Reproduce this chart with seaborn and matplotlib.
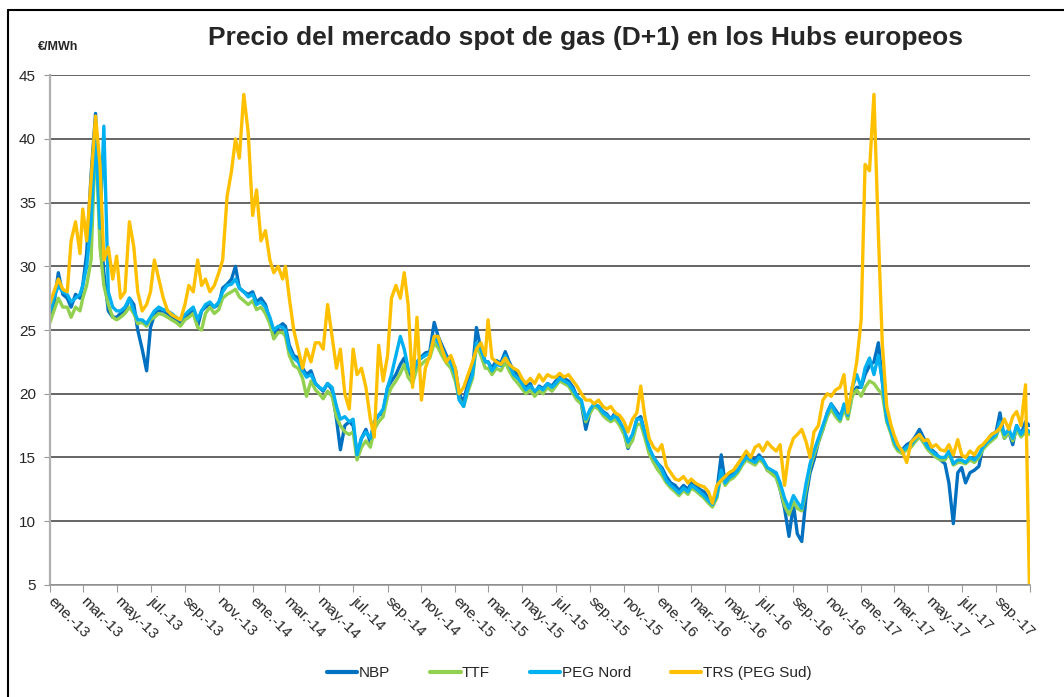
import pandas as pd
import matplotlib
matplotlib.use('Agg')
import matplotlib.pyplot as plt
from matplotlib.lines import Line2D
import seaborn as sns

# lecturas aproximadas: 4 por mes (dias 1, 8, 16, 24), ene-2013 .. oct-2017, + 31-oct-2017
dias = [1, 8, 16, 24]
meses = pd.date_range('2013-01-01', '2017-10-01', freq='MS')
fechas = [m + pd.Timedelta(days=d - 1) for m in meses for d in dias] + [pd.Timestamp('2017-10-31')]

nbp = [
    25.8, 27.0, 29.5, 27.8,  27.5, 26.8, 27.8, 27.5,  28.5, 31.0, 37.2, 42.0,
    34.0, 29.5, 26.5, 26.0,  26.0, 26.3, 26.5, 27.5,  27.0, 25.0, 23.5, 21.8,
    25.2, 26.2, 26.5, 26.5,  26.3, 26.0, 25.8, 25.5,  26.0, 26.2, 26.5, 25.3,
    26.5, 26.8, 27.0, 26.8,  27.0, 28.3, 28.6, 29.0,  30.0, 28.3, 28.0, 27.8,
    28.0, 27.2, 27.5, 27.0,  25.8, 24.5, 25.2, 25.5,  25.3, 23.8, 23.0, 22.8,
    22.0, 21.5, 21.8, 20.8,  20.5, 20.2, 20.8, 20.3,  18.0, 15.6, 17.5, 17.8,
    17.5, 15.2, 16.5, 17.2,  16.2, 17.8, 18.3, 18.5,  20.5, 21.0, 21.5, 22.3,
    22.8, 21.8, 21.3, 22.5,  22.9, 23.2, 23.3, 25.6,  24.5, 23.8, 23.0, 22.6,
    22.0, 20.0, 19.3, 21.0,  21.8, 25.2, 23.5, 22.5,  22.5, 22.0, 22.6, 22.4,
    23.3, 22.5, 21.8, 21.5,  21.0, 20.5, 20.8, 20.0,  20.6, 20.4, 20.8, 20.6,
    21.0, 21.3, 21.2, 21.0,  20.5, 19.8, 19.2, 17.2,  18.6, 19.2, 19.0, 18.6,
    18.4, 18.0, 18.5, 17.8,  17.0, 15.7, 16.5, 18.0,  18.2, 17.0, 15.6, 15.0,
    14.5, 14.2, 13.5, 13.0,  12.8, 12.4, 12.8, 12.5,  13.0, 12.8, 12.5, 12.3,
    11.8, 11.4, 12.3, 15.2,  13.0, 13.5, 13.8, 14.0,  14.5, 15.2, 15.0, 14.8,
    15.2, 14.8, 14.0, 13.8,  13.5, 12.5, 11.0, 8.8,   11.3, 9.0, 8.4, 12.0,
    13.8, 14.8, 16.2, 17.2,  18.5, 19.2, 18.7, 18.2,  19.0, 18.3, 20.0, 20.5,
    20.5, 21.5, 22.2, 22.5,  24.0, 21.0, 18.2, 17.2,  16.5, 15.8, 15.6, 16.0,
    16.2, 16.6, 17.2, 16.5,  16.0, 15.6, 15.3, 14.8,  14.5, 13.0, 9.8, 13.8,
    14.2, 13.0, 13.8, 14.0,  14.3, 15.8, 16.3, 16.8,  17.0, 18.5, 16.5, 17.0,
    16.0, 17.5, 16.8, 17.8,  17.5,
]

ttf = [
    25.6, 26.5, 27.5, 26.8,  26.8, 26.0, 26.8, 26.5,  27.5, 28.5, 30.5, 40.5,
    31.5, 28.5, 27.0, 26.0,  25.8, 26.0, 26.3, 26.8,  26.3, 25.5, 25.6, 25.3,
    25.8, 26.0, 26.3, 26.2,  26.0, 25.8, 25.6, 25.3,  25.8, 26.0, 26.3, 25.2,
    25.0, 26.3, 26.8, 26.3,  26.6, 27.5, 27.8, 28.0,  28.2, 27.6, 27.3, 27.0,
    27.3, 26.6, 26.8, 26.3,  25.5, 24.3, 24.8, 24.8,  24.5, 23.0, 22.2, 22.0,
    21.2, 19.8, 21.0, 20.3,  20.0, 19.6, 20.2, 19.8,  18.2, 17.5, 17.0, 16.8,
    17.0, 14.8, 15.8, 16.3,  15.8, 17.2, 17.8, 18.2,  19.8, 20.5, 21.0, 21.6,
    22.3, 21.3, 20.8, 22.0,  22.3, 22.6, 22.8, 24.0,  23.6, 23.0, 22.4, 22.0,
    21.0, 19.6, 19.0, 20.2,  21.2, 23.8, 23.0, 22.0,  22.0, 21.5, 22.0, 21.8,
    22.5, 21.8, 21.2, 20.8,  20.4, 20.0, 20.3, 19.8,  20.2, 20.0, 20.5, 20.2,
    20.6, 21.0, 20.8, 20.6,  20.0, 19.5, 19.2, 17.8,  18.5, 19.0, 18.8, 18.3,
    18.0, 17.8, 18.0, 17.5,  16.8, 15.8, 16.3, 17.6,  17.6, 16.6, 15.3, 14.6,
    14.0, 13.6, 13.0, 12.6,  12.3, 12.0, 12.4, 12.1,  12.6, 12.4, 12.1, 11.8,
    11.4, 11.1, 11.8, 13.6,  12.8, 13.2, 13.4, 13.8,  14.4, 14.8, 14.6, 14.4,
    14.8, 14.6, 14.0, 13.7,  13.4, 12.5, 11.2, 10.5,  11.5, 11.0, 10.8, 12.5,
    14.2, 15.2, 16.2, 17.2,  18.2, 18.8, 18.2, 17.8,  18.8, 18.0, 19.8, 20.3,
    19.8, 20.5, 21.0, 20.8,  20.3, 20.0, 17.8, 16.8,  16.0, 15.5, 15.3, 15.6,
    15.8, 16.2, 16.6, 16.1,  15.6, 15.3, 15.0, 14.8,  14.8, 15.3, 14.4, 14.6,
    14.6, 14.5, 14.8, 14.6,  15.0, 15.6, 16.0, 16.3,  16.6, 17.5, 16.5, 17.0,
    16.3, 17.2, 16.6, 17.0,  16.8,
]

peg_nord = [
    26.5, 27.5, 28.5, 28.0,  27.8, 27.2, 27.5, 27.8,  28.5, 30.0, 33.5, 40.5,
    33.0, 41.0, 28.0, 26.8,  26.5, 26.5, 26.8, 27.5,  26.5, 25.8, 25.8, 25.5,
    26.0, 26.5, 26.8, 26.6,  26.5, 26.3, 26.0, 25.8,  26.2, 26.5, 26.8, 25.8,
    26.5, 27.0, 27.2, 26.8,  27.2, 28.0, 28.5, 28.6,  29.0, 28.3, 28.0, 27.6,
    27.8, 27.0, 27.2, 26.8,  26.0, 25.0, 25.3, 25.2,  25.0, 23.5, 22.8, 22.5,
    21.8, 21.3, 21.5, 20.8,  20.5, 20.3, 20.8, 20.5,  19.0, 18.0, 18.2, 17.8,
    18.0, 15.2, 16.5, 17.0,  16.5, 17.8, 18.3, 18.8,  20.5, 21.5, 23.0, 24.5,
    23.5, 22.0, 21.5, 22.5,  22.8, 23.0, 23.2, 24.5,  24.0, 23.5, 22.8, 22.4,
    21.5, 19.5, 19.0, 20.5,  21.5, 24.0, 23.5, 22.5,  22.5, 21.8, 22.3, 22.2,
    23.0, 22.3, 21.5, 21.2,  20.8, 20.3, 20.6, 20.2,  20.5, 20.3, 20.8, 20.5,
    20.8, 21.2, 21.0, 20.8,  20.3, 19.8, 19.5, 18.0,  18.8, 19.2, 19.0, 18.5,
    18.3, 18.0, 18.3, 17.8,  17.2, 16.2, 16.8, 18.0,  18.0, 17.0, 15.8, 15.0,
    14.5, 14.0, 13.2, 12.8,  12.5, 12.2, 12.6, 12.3,  12.8, 12.6, 12.3, 12.0,
    11.6, 11.3, 12.0, 14.0,  13.0, 13.4, 13.6, 14.0,  14.6, 15.0, 14.8, 14.6,
    15.0, 14.8, 14.2, 14.0,  13.8, 13.0, 11.8, 11.0,  12.0, 11.5, 11.0, 13.0,
    14.5, 15.5, 16.5, 17.5,  18.5, 19.2, 18.5, 18.0,  19.2, 18.3, 20.5, 21.5,
    20.5, 22.0, 22.8, 21.5,  23.0, 21.0, 18.0, 17.0,  16.3, 15.7, 15.5, 15.8,
    16.0, 16.4, 16.8, 16.3,  15.8, 15.5, 15.2, 15.0,  15.0, 15.5, 14.5, 14.8,
    14.8, 14.6, 15.0, 14.8,  15.2, 15.8, 16.2, 16.5,  16.8, 17.8, 16.8, 17.2,
    16.5, 17.5, 16.8, 17.3,  17.0,
]

trs = [
    27.1, 28.0, 29.0, 28.2,  28.0, 32.0, 33.5, 31.0,  34.5, 32.0, 36.8, 41.8,
    38.0, 30.5, 31.5, 29.0,  30.8, 27.5, 28.0, 33.5,  31.5, 28.0, 26.5, 27.0,
    28.0, 30.5, 29.0, 27.5,  26.5, 26.2, 26.0, 25.8,  27.0, 28.5, 28.0, 30.5,
    28.5, 29.0, 28.0, 28.5,  29.5, 30.5, 35.5, 37.5,  40.0, 38.5, 43.5, 40.5,
    34.0, 36.0, 32.0, 32.8,  30.5, 29.5, 30.0, 29.0,  30.0, 27.5, 25.0, 23.5,
    22.0, 23.5, 22.5, 24.0,  24.0, 23.5, 27.0, 24.5,  22.0, 23.5, 20.0, 18.8,
    23.5, 21.5, 22.0, 20.5,  18.0, 16.6, 23.8, 21.0,  23.0, 27.5, 28.5, 27.5,
    29.5, 27.0, 20.5, 26.0,  19.5, 22.0, 23.0, 24.5,  24.5, 23.5, 22.5, 23.0,
    22.0, 20.0, 20.5, 21.5,  22.5, 23.5, 24.0, 23.0,  25.8, 22.8, 22.5, 22.3,
    22.8, 22.3, 22.0, 21.8,  21.2, 20.8, 21.2, 20.8,  21.5, 21.0, 21.5, 21.3,
    21.3, 21.6, 21.3, 21.5,  21.0, 20.6, 20.0, 19.5,  19.5, 19.2, 19.5, 19.0,
    18.8, 19.0, 18.5, 18.3,  17.8, 17.0, 18.0, 18.5,  20.6, 18.3, 16.5, 15.8,
    15.5, 16.0, 14.3, 13.8,  13.3, 13.2, 13.5, 13.0,  13.3, 13.0, 12.8, 12.7,
    12.3, 11.4, 12.8, 13.2,  13.5, 13.8, 14.0, 14.5,  15.0, 15.5, 15.0, 15.8,
    16.0, 15.5, 16.2, 15.8,  15.5, 16.0, 12.8, 15.5,  16.5, 16.8, 17.2, 16.2,
    15.0, 17.0, 17.5, 19.5,  20.0, 19.8, 20.3, 20.5,  21.5, 18.5, 20.5, 22.5,
    25.8, 38.0, 37.5, 43.5,  32.5, 24.0, 19.0, 17.5,  16.8, 16.0, 15.5, 14.6,
    16.2, 16.5, 16.8, 16.3,  16.4, 15.8, 16.0, 15.6,  15.5, 16.0, 15.2, 16.4,
    15.2, 15.0, 15.5, 15.2,  15.8, 16.0, 16.4, 16.8,  17.0, 17.3, 18.0, 17.2,
    18.2, 18.6, 17.5, 20.7,  5.0,
]

series = ['NBP', 'TTF', 'PEG Nord', 'TRS (PEG Sud)']
colores = ['#0070C0', '#92D050', '#00B0F0', '#FFC000']

meses_es = ['ene.', 'mar.', 'may.', 'jul.', 'sep.', 'nov.']
ticks = pd.date_range('2013-01-01', '2017-11-01', freq='2MS')
tick_labels = [f'{meses_es[(t.month - 1) // 2]}-{t.strftime("%y")}' for t in ticks[:-1]] + ['']

df = pd.concat([
    pd.DataFrame({'fecha': fechas, 'precio': v, 'hub': s})
    for s, v in zip(series, [nbp, ttf, peg_nord, trs])
])

sns.set_style('white')
plt.rcParams['font.family'] = ['Liberation Sans', 'DejaVu Sans']

fig = plt.figure(figsize=(10.64, 6.97), dpi=100)
ax = fig.add_axes([0.047, 0.161, 0.921, 0.731])

sns.lineplot(data=df, x='fecha', y='precio', hue='hub', hue_order=series,
             palette=colores, linewidth=2.4, ax=ax, legend=False)

ax.set_ylim(5, 45)
ax.set_xlim(pd.Timestamp('2013-01-01'), pd.Timestamp('2017-11-01'))
ax.set_yticks(range(5, 50, 5))
ax.set_xticks(ticks)
ax.set_xticklabels(tick_labels, rotation=-45, ha='left', va='center',
                   rotation_mode='anchor', fontsize=11)
ax.tick_params(axis='y', labelsize=11, length=4, color='#999999', pad=6, left=True)
ax.tick_params(axis='x', length=5, color='#999999', pad=5, bottom=True)
ax.set_xlabel('')
ax.set_ylabel('')

ax.yaxis.grid(True, color='#3c3c3c', linewidth=1.1)
ax.set_axisbelow(True)
for lado in ['top', 'right']:
    ax.spines[lado].set_visible(False)
ax.spines['left'].set_color('#b0b0b0')
ax.spines['left'].set_linewidth(1.6)
ax.spines['bottom'].set_color('#999999')
ax.spines['bottom'].set_linewidth(1.2)

fig.text(0.55, 0.945, 'Precio del mercado spot de gas (D+1) en los Hubs europeos',
         ha='center', va='center', fontsize=19, fontweight='bold')
fig.text(0.036, 0.932, '€/MWh', ha='left', va='center', fontsize=9, fontweight='bold')

handles = [Line2D([], [], color=c, lw=3) for c in colores]
ax.legend(handles, series, loc='center', bbox_to_anchor=(0.535, 0.034),
          bbox_transform=fig.transFigure, ncol=4, frameon=False, fontsize=11,
          handlelength=2.0, handletextpad=0.1, columnspacing=2.6)

# marco de la imagen (solo arriba e izquierda)
fig.add_artist(Line2D([0.0075, 0.0075], [0, 0.986], transform=fig.transFigure, color='black', lw=1.5))
fig.add_artist(Line2D([0.0075, 1], [0.986, 0.986], transform=fig.transFigure, color='black', lw=1.5))

fig.savefig('out.png', dpi=100)
